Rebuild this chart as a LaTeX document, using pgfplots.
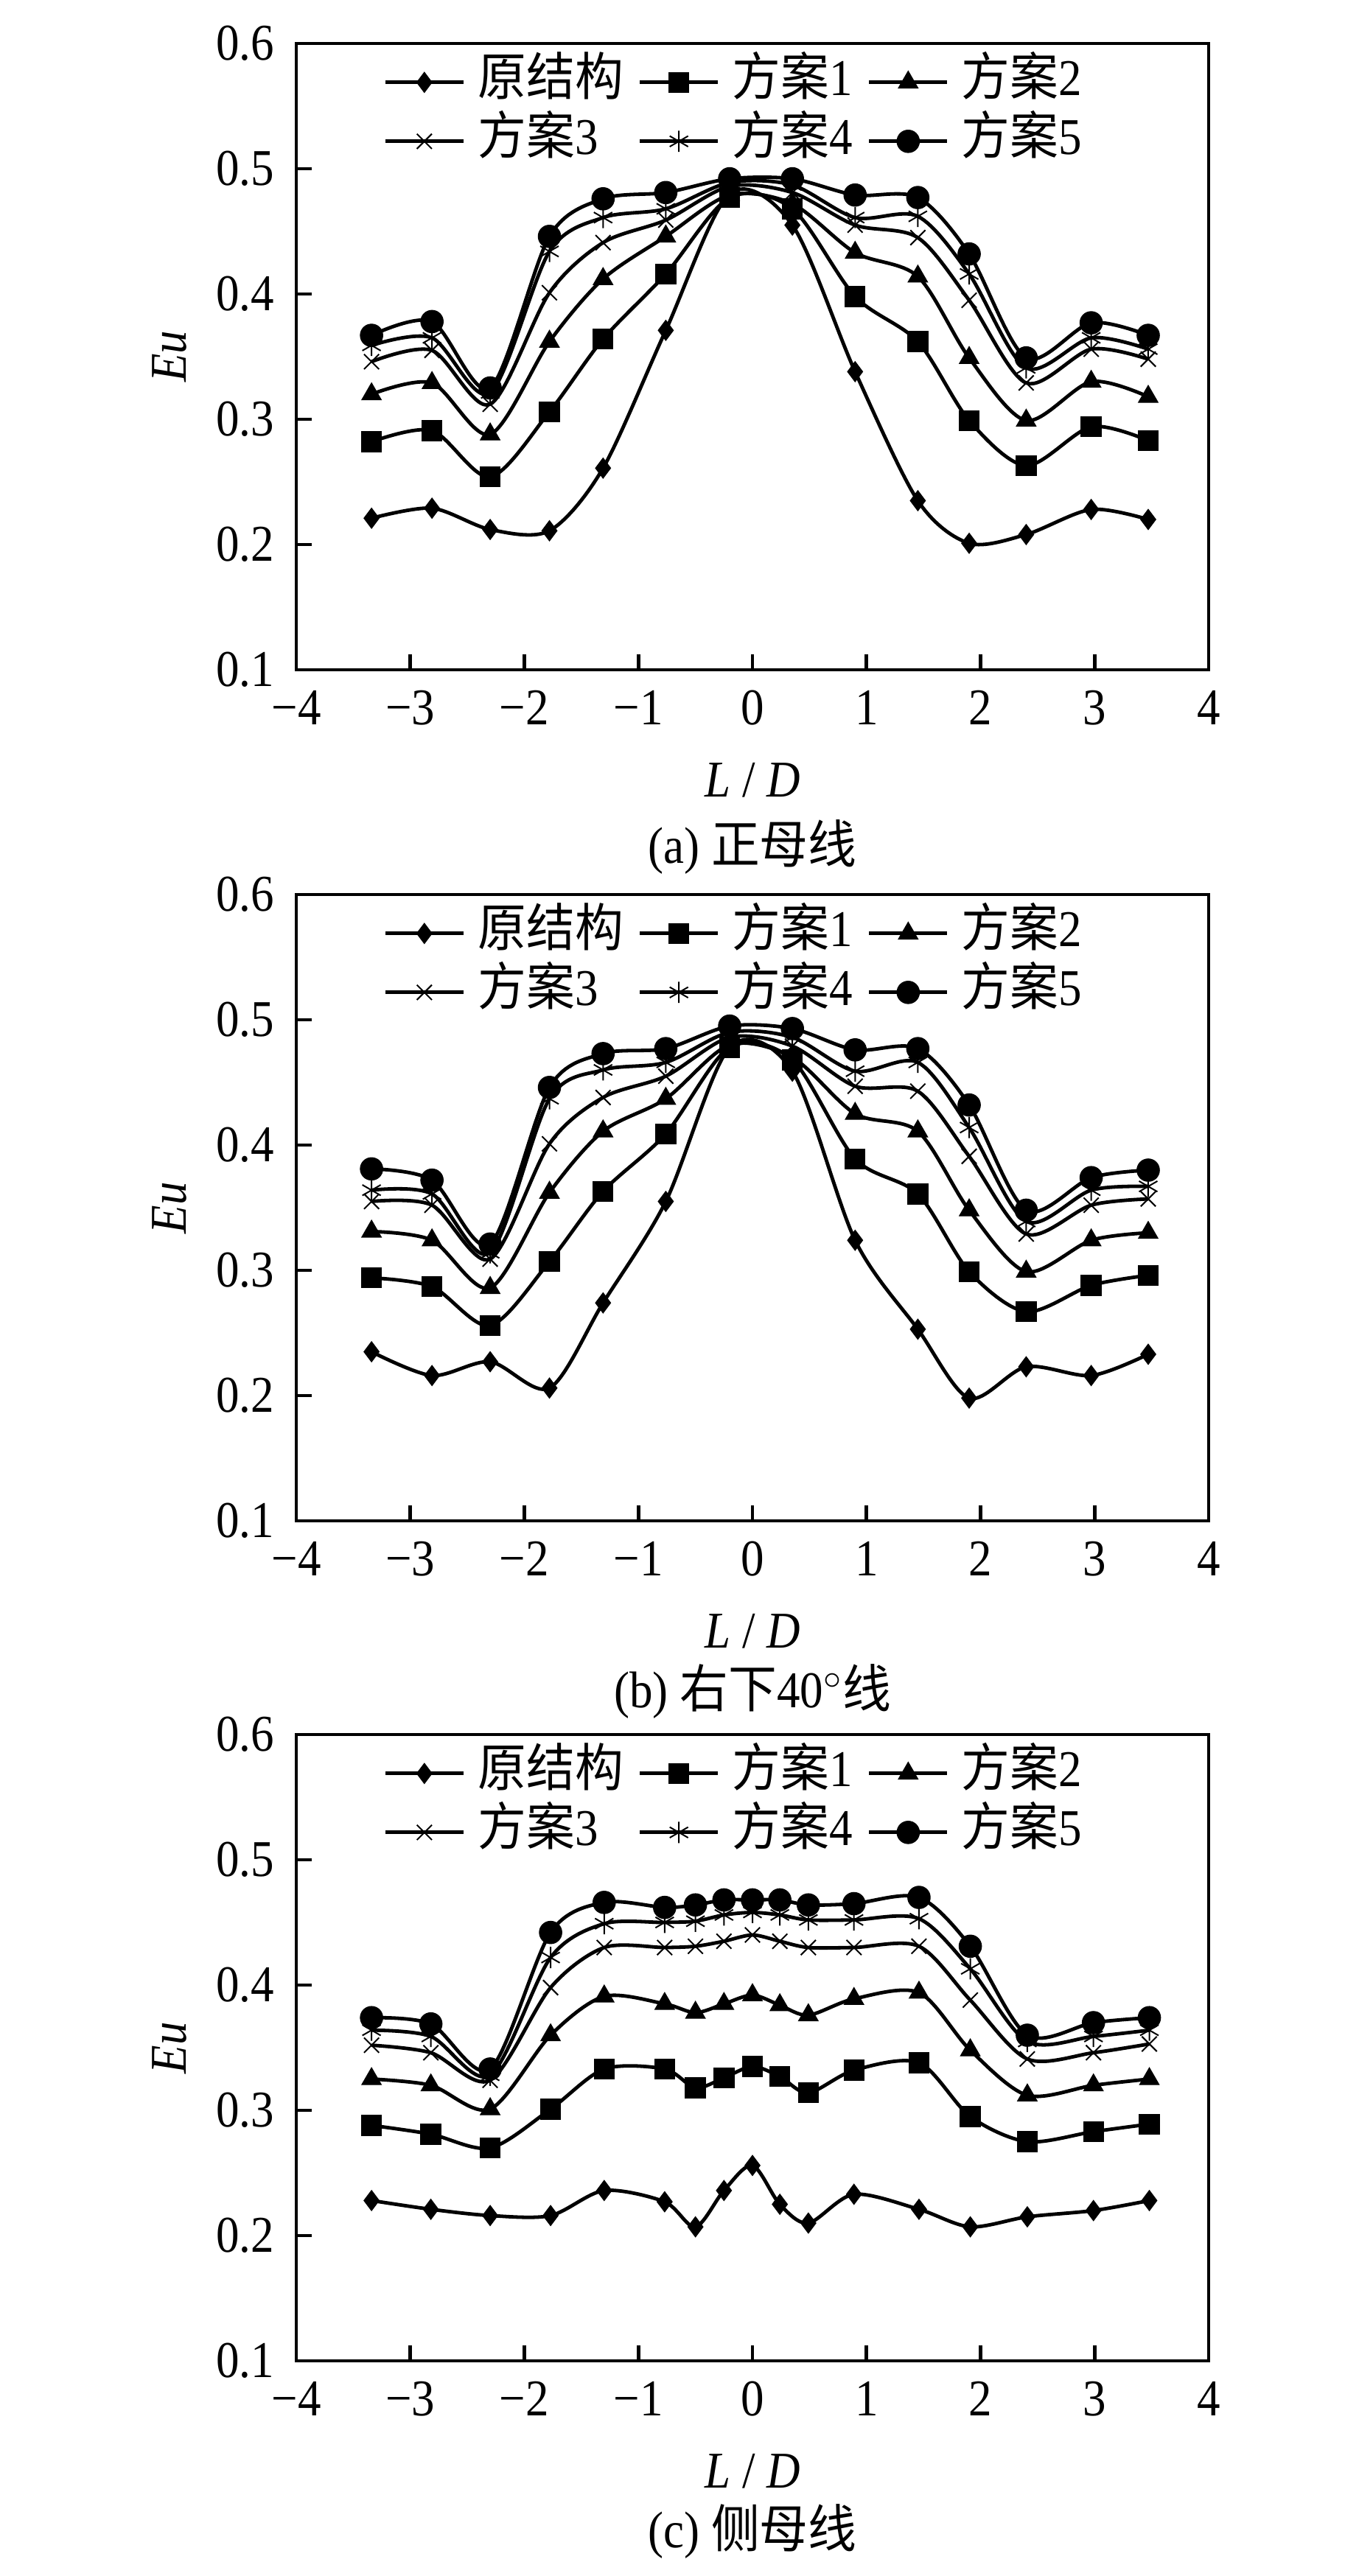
\documentclass[border=0pt]{standalone}
\usepackage{fontspec}
\setmainfont{Liberation Serif}[FakeStretch=0.9]
\newfontfamily\cjk{Noto Sans CJK SC}[FakeStretch=0.94]
\usepackage{pgfplots}
\usepackage{pgfplotstable}
\pgfplotsset{compat=1.18}
\newcommand\fs{\fontsize{17.5}{20}\selectfont}

\pgfplotstableread{
x s0 s1 s2 s3 s4 s5
-3.34 0.221 0.282 0.320 0.346 0.359 0.367
-2.81 0.229 0.291 0.329 0.355 0.365 0.378
-2.30 0.212 0.254 0.288 0.312 0.321 0.325
-1.78 0.211 0.306 0.362 0.401 0.434 0.446
-1.31 0.261 0.364 0.412 0.441 0.461 0.476
-0.76 0.371 0.416 0.446 0.459 0.468 0.481
-0.20 0.480 0.477 0.479 0.486 0.489 0.492
0.35 0.455 0.468 0.472 0.481 0.487 0.492
0.90 0.338 0.398 0.433 0.455 0.461 0.479
1.45 0.235 0.362 0.414 0.445 0.462 0.477
1.90 0.201 0.299 0.349 0.395 0.416 0.432
2.40 0.208 0.263 0.299 0.329 0.341 0.349
2.97 0.228 0.294 0.330 0.356 0.365 0.377
3.47 0.220 0.283 0.318 0.348 0.356 0.367
}\dataA

\pgfplotstableread{
x s0 s1 s2 s3 s4 s5
-3.34 0.235 0.294 0.331 0.355 0.364 0.381
-2.81 0.216 0.287 0.324 0.352 0.361 0.372
-2.30 0.227 0.256 0.286 0.309 0.314 0.321
-1.78 0.206 0.307 0.362 0.401 0.437 0.446
-1.31 0.274 0.363 0.411 0.438 0.460 0.473
-0.76 0.355 0.409 0.437 0.455 0.466 0.477
-0.20 0.478 0.478 0.480 0.486 0.490 0.495
0.35 0.459 0.468 0.470 0.479 0.486 0.493
0.90 0.324 0.389 0.425 0.447 0.459 0.476
1.45 0.253 0.361 0.411 0.443 0.466 0.477
1.90 0.198 0.299 0.348 0.391 0.414 0.432
2.40 0.223 0.267 0.299 0.329 0.339 0.348
2.97 0.216 0.288 0.324 0.352 0.364 0.374
3.47 0.233 0.296 0.330 0.357 0.367 0.380
}\dataB

\pgfplotstableread{
x s0 s1 s2 s3 s4 s5
-3.34 0.228 0.288 0.325 0.352 0.364 0.374
-2.82 0.221 0.281 0.320 0.346 0.359 0.369
-2.30 0.216 0.270 0.301 0.324 0.328 0.333
-1.77 0.216 0.301 0.360 0.398 0.422 0.442
-1.30 0.236 0.333 0.391 0.430 0.449 0.466
-0.77 0.227 0.333 0.385 0.430 0.450 0.462
-0.50 0.207 0.318 0.378 0.431 0.451 0.464
-0.25 0.236 0.326 0.385 0.435 0.456 0.468
0.00 0.256 0.335 0.392 0.440 0.458 0.468
0.24 0.225 0.327 0.384 0.435 0.456 0.468
0.49 0.210 0.314 0.376 0.430 0.452 0.464
0.89 0.233 0.332 0.389 0.430 0.452 0.465
1.46 0.221 0.338 0.394 0.431 0.453 0.470
1.91 0.207 0.295 0.348 0.388 0.413 0.431
2.41 0.215 0.275 0.312 0.341 0.355 0.360
2.99 0.220 0.283 0.320 0.346 0.359 0.370
3.48 0.228 0.289 0.325 0.353 0.364 0.374
}\dataC

\pgfplotsset{
  myaxis/.style={
    scale only axis, width=309.5pt, height=212.5pt,
    clip mode=individual,
    xmin=-4, xmax=4, ymin=0.1, ymax=0.6,
    xtick={-4,-3,-2,-1,0,1,2,3,4},
    xticklabels={−4,−3,−2,−1,0,1,2,3,4},
    ytick={0.1,0.2,0.3,0.4,0.5,0.6},
    yticklabels={0.1,0.2,0.3,0.4,0.5,0.6},
    xtick pos=bottom, ytick pos=left,
    tick align=inside, major tick length=5.3pt,
    axis line style={line width=1.2pt},
    every tick/.style={black, line width=1.2pt},
    tick label style={font=\fs},
    xticklabel style={yshift=-3.5pt},
    yticklabel style={xshift=-4pt},
    xlabel={\textit{L} / \textit{D}},
    ylabel={\textit{Eu}},
    label style={font=\fs},
    xlabel style={at={(axis description cs:0.5,-0.176)}, anchor=center},
    ylabel style={at={(axis description cs:-0.139,0.5)}, anchor=center},
    legend columns=3,
    legend cell align=left,
    legend style={draw=none, fill=none, font=\fs,
      at={(0.095,1)}, anchor=north west, yshift=-5pt,
      inner sep=0pt, row sep=4pt,
      nodes={inner sep=0pt, text height=12.5pt, text depth=3.5pt},
      /tikz/every odd column/.append style={column sep=4.3pt},
      /tikz/every even column/.append style={column sep=5pt}},
    legend image code/.code={\draw[##1, mark repeat=2, mark phase=2] plot coordinates {(0pt,0pt) (13.25pt,0pt) (26.5pt,0pt)};},
  },
  ser/.style={black, line width=1.2pt, smooth, tension=0.5},
  m0/.style={ser, mark=diamond*, mark size=3.4pt, mark options={solid, line width=0.3pt, fill=black}},
  m1/.style={ser, mark=square*, mark size=3.4pt, mark options={solid, line width=0.3pt, fill=black}},
  m2/.style={ser, mark=triangle*, mark size=3.8pt, mark options={solid, line width=0.3pt, fill=black}},
  m3/.style={ser, mark=x, mark size=3.6pt, mark options={solid, line width=0.5pt}},
  m4/.style={ser, mark=asterisk, mark size=3.6pt, mark options={solid, line width=0.5pt}},
  m5/.style={ser, mark=*, mark size=3.8pt, mark options={solid, line width=0.3pt, fill=black}},
}

\newcommand\allplots[1]{%
  \addplot[m0] table[x=x,y=s0] {#1}; \addlegendentry{{\cjk 原结构}}
  \addplot[m1] table[x=x,y=s1] {#1}; \addlegendentry{{\cjk 方案}1}
  \addplot[m2] table[x=x,y=s2] {#1}; \addlegendentry{{\cjk 方案}2}
  \addplot[m3] table[x=x,y=s3] {#1}; \addlegendentry{{\cjk 方案}3}
  \addplot[m4] table[x=x,y=s4] {#1}; \addlegendentry{{\cjk 方案}4}
  \addplot[m5] table[x=x,y=s5] {#1}; \addlegendentry{{\cjk 方案}5}
}

\begin{document}
\begin{tikzpicture}
\useasboundingbox (0,0) rectangle (460.75pt,-874pt);
\begin{axis}[myaxis, at={(100.5pt,-227.25pt)}, anchor=south west]
\allplots{\dataA}
\node[font=\fs] at (axis description cs:0.5,-0.283) {(a) {\cjk 正母线}};
\end{axis}
\begin{axis}[myaxis, at={(100.5pt,-516pt)}, anchor=south west]
\allplots{\dataB}
\node[font=\fs] at (axis description cs:0.5,-0.272) {(b) {\cjk 右下}40$^\circ${\cjk 线}};
\end{axis}
\begin{axis}[myaxis, at={(100.5pt,-801pt)}, anchor=south west]
\allplots{\dataC}
\node[font=\fs] at (axis description cs:0.5,-0.272) {(c) {\cjk 侧母线}};
\end{axis}
\end{tikzpicture}
\end{document}
